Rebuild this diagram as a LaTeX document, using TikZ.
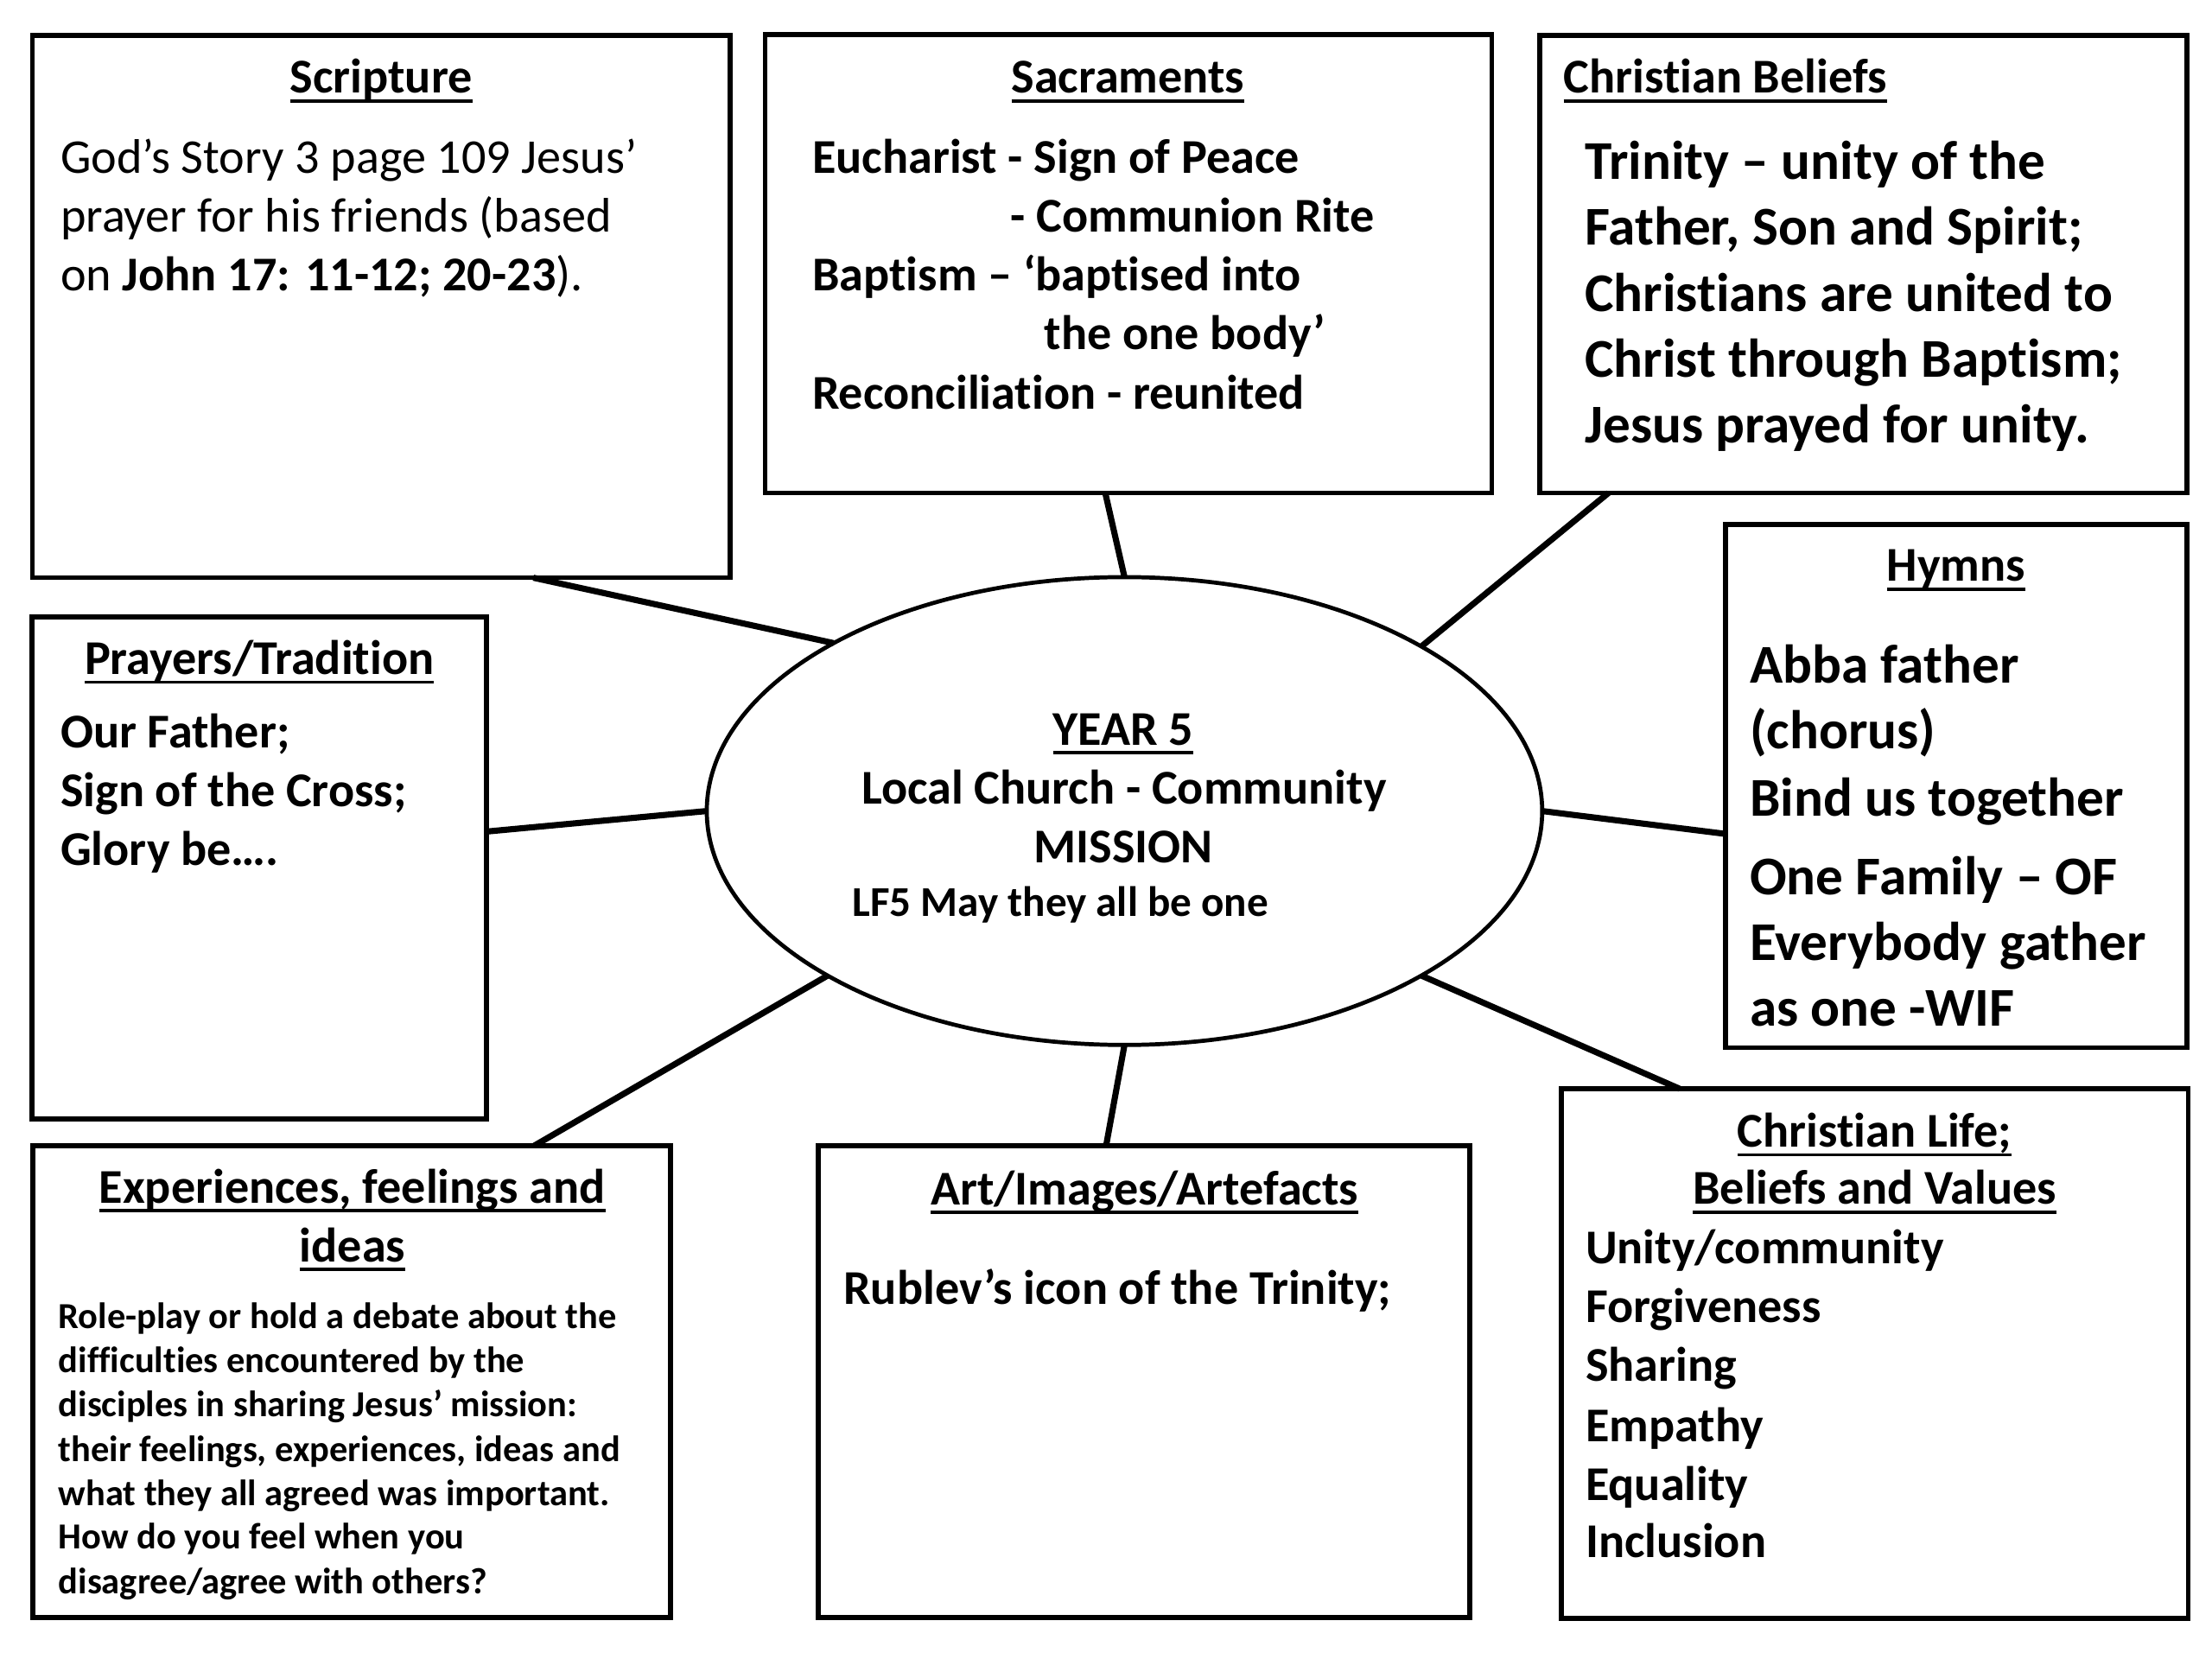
\documentclass[tikz,border=0pt]{standalone}
\usepackage{fontspec}
\setmainfont{Carlito}[Ligatures={NoCommon}]
\usetikzlibrary{shapes.geometric,calc}
\newcommand\ulin[1]{\draw[uline] ([yshift=-0.094cm]#1.base west) -- ([yshift=-0.094cm]#1.base east);}
\begin{document}
\begin{tikzpicture}[x=0.017cm,y=-0.017cm,
  box/.style={draw, line width=1.7pt, rectangle, inner sep=0pt, outer sep=0pt},
  ell/.style={draw, ellipse, line width=1.4pt, inner sep=0pt, outer sep=0pt, minimum width=10.066cm, minimum height=5.637cm},
  link/.style={line width=2.1pt},
  uline/.style={line width=1.1pt},
  ttl/.style={inner sep=0pt, outer sep=0pt, anchor=base, font=\fontsize{16.64pt}{20pt}\selectfont\bfseries},
  bd/.style={inner sep=0pt, outer sep=0pt, anchor=base west, font=\fontsize{16.64pt}{20pt}\selectfont\bfseries},
  bdr/.style={inner sep=0pt, outer sep=0pt, anchor=base west, font=\fontsize{16.64pt}{20pt}\selectfont},
  big/.style={inner sep=0pt, outer sep=0pt, anchor=base west, font=\fontsize{18.72pt}{22pt}\selectfont\bfseries},
  sm/.style={inner sep=0pt, outer sep=0pt, anchor=base west, font=\fontsize{12.58pt}{15pt}\selectfont\bfseries},
  lf/.style={inner sep=0pt, outer sep=0pt, anchor=base west, font=\fontsize{14.56pt}{17pt}\selectfont\bfseries}
]
\fill[white] (0,0) rectangle (1568,1176);
\useasboundingbox (0,0) rectangle (1568,1176);

% boxes
\node[box, minimum width=8.4065cm, minimum height=6.5365cm] (scr) at (270.25,217.25) {};
\node[box, minimum width=8.7567cm, minimum height=5.5216cm] (sac) at (799.95,187) {};
\node[box, minimum width=7.7945cm, minimum height=5.5114cm] (cb) at (1320.85,187.3) {};
\node[box, minimum width=5.5624cm, minimum height=6.3019cm] (hym) at (1386.6,557.35) {};
\node[box, minimum width=5.4689cm, minimum height=6.0486cm] (pray) at (183.75,615.1) {};
\node[box, minimum width=7.6874cm, minimum height=5.6814cm] (exp) at (249.3,979.3) {};
\node[box, minimum width=7.8489cm, minimum height=5.6814cm] (art) at (810.85,979.3) {};
\node[box, minimum width=7.5565cm, minimum height=6.3784cm] (cl) at (1328.85,959.4) {};
\node[ell] (ell) at (797.1,574.9) {};

% connectors
\draw[link] ($(scr.south west)!0.718!(scr.south east)$) -- (ell.150.4);
\draw[link] ($(sac.south west)!0.468!(sac.south east)$) -- (ell.90);
\draw[link] ($(cb.south west)!0.106!(cb.south east)$) -- (ell.29.4);
\draw[link] ($(hym.north west)!0.591!(hym.south west)$) -- (ell.-0.3);
\draw[link] ($(cl.north west)!0.189!(cl.north east)$) -- (ell.-29.6);
\draw[link] ($(art.north west)!0.442!(art.north east)$) -- (ell.-90);
\draw[link] ($(exp.north west)!0.786!(exp.north east)$) -- (ell.209.5);
\draw[link] ($(pray.north east)!0.428!(pray.south east)$) -- (ell.180);

% Scripture
\node[ttl] (scrT) at (270.2,66) {Scripture};
\node[bdr] (scr1) at (42.9,122.5) {God’s Story 3 page 109 Jesus’};
\node[bdr] (scr2) at (42.9,164.3) {prayer for his friends (based};
\node[bdr] (scr3) at (42.9,206) {on \textbf{John 17: 11-12; 20-23}).};

% Sacraments
\node[ttl] (sacT) at (799.6,66) {Sacraments};
\node[bd] (sac1) at (575.8,122.5) {Eucharist - Sign of Peace};
\node[bd] (sac2) at (716.4,164.6) {- Communion Rite};
\node[bd] (sac3) at (575.8,206.3) {Baptism – ‘baptised into};
\node[bd] (sac4) at (740.4,248) {the one body’};
\node[bd] (sac5) at (575.8,290) {Reconciliation - reunited};

% Christian Beliefs
\node[bd] (cbT) at (1108.4,66) {Christian Beliefs};
\node[big] (cb1) at (1123.5,127) {Trinity – unity of the};
\node[big] (cb2) at (1123.5,173.5) {Father, Son and Spirit;};
\node[big] (cb3) at (1123.5,220.8) {Christians are united to};
\node[big] (cb4) at (1123.5,267.3) {Christ through Baptism;};
\node[big] (cb5) at (1123.5,313.7) {Jesus prayed for unity.};

% Hymns
\node[ttl] (hymT) at (1386.7,412) {Hymns};
\node[big] (hym1) at (1240.4,484) {Abba father};
\node[big] (hym2) at (1240.4,531) {(chorus)};
\node[big] (hym3) at (1240.4,578.4) {Bind us together};
\node[big] (hym4) at (1240.4,634) {One Family – OF};
\node[big] (hym5) at (1240.4,681) {Everybody gather};
\node[big] (hym6) at (1240.4,727.3) {as one -WIF};

% Prayers
\node[ttl] (prayT) at (183.9,478) {Prayers/Tradition};
\node[bd] (pray1) at (42.9,530) {Our Father;};
\node[bd] (pray2) at (42.9,571.6) {Sign of the Cross;};
\node[bd] (pray3) at (42.9,613.4) {Glory be….};

% Centre
\node[ttl] (yearT) at (796.3,528) {YEAR 5};
\node[ttl] (c2) at (796.8,570) {Local Church - Community};
\node[ttl] (c3) at (796.3,611.5) {MISSION};
\node[lf] (c4) at (604.2,649.3) {LF5 May they all be one};

% Experiences
\node[ttl] (expT1) at (249.7,852.6) {Experiences, feelings and};
\node[ttl] (expT2) at (249.9,894.4) {ideas};
\node[sm] (exp1) at (41.5,941.6) {Role-play or hold a debate about the};
\node[sm] (exp2) at (41.5,972.9) {difficulties encountered by the};
\node[sm] (exp3) at (41.5,1004.3) {disciples in sharing Jesus’ mission:};
\node[sm] (exp4) at (41.5,1035.8) {their feelings, experiences, ideas and};
\node[sm] (exp5) at (41.5,1067.2) {what they all agreed was important.};
\node[sm] (exp6) at (41.5,1098) {How do you feel when you};
\node[sm] (exp7) at (41.5,1130) {disagree/agree with others?};

% Art
\node[ttl] (artT) at (811.4,854) {Art/Images/Artefacts};
\node[bd] (art1) at (598,924.6) {Rublev’s icon of the Trinity;};

% Christian Life
\node[ttl] (clT1) at (1328.9,813) {Christian Life;};
\node[ttl] (clT2) at (1328.9,853.8) {Beliefs and Values};
\node[bd] (cl1) at (1124,896) {Unity/community};
\node[bd] (cl2) at (1124,937.6) {Forgiveness};
\node[bd] (cl3) at (1124,978.9) {Sharing};
\node[bd] (cl4) at (1124,1022) {Empathy};
\node[bd] (cl5) at (1124,1063.3) {Equality};
\node[bd] (cl6) at (1124,1104) {Inclusion};

% underlines
\ulin{scrT}
\ulin{sacT}
\ulin{cbT}
\ulin{hymT}
\ulin{prayT}
\ulin{yearT}
\ulin{expT1}
\ulin{expT2}
\ulin{artT}
\ulin{clT1}
\ulin{clT2}
\end{tikzpicture}
\end{document}
